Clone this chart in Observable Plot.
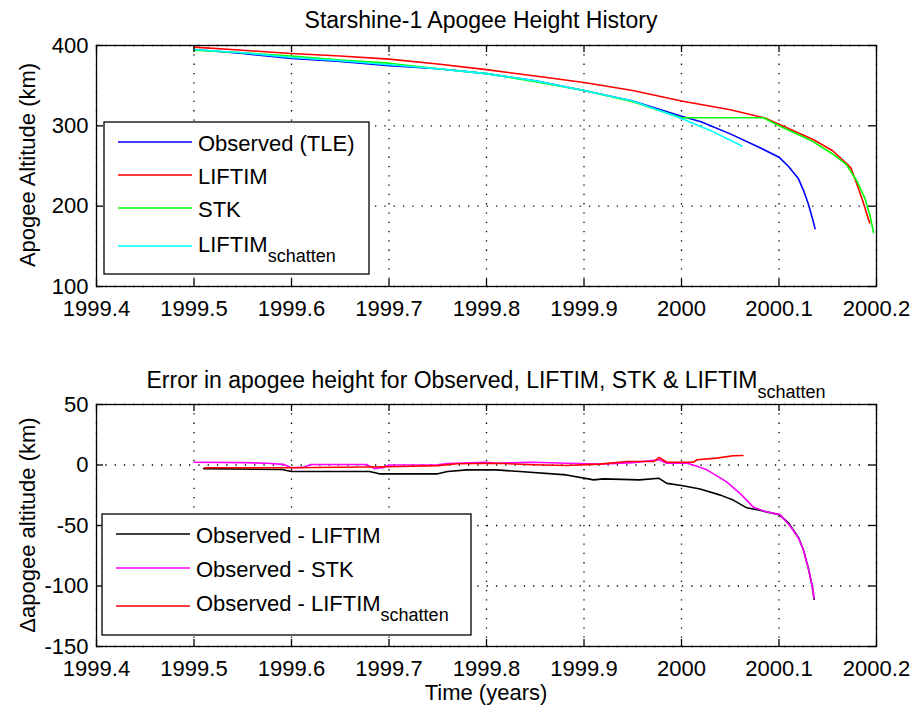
<!DOCTYPE html>
<html>
<head>
<meta charset="utf-8">
<script src="https://cdn.jsdelivr.net/npm/d3@7"></script>
<script src="https://cdn.jsdelivr.net/npm/@observablehq/plot@0.6"></script>
<style>
  body { margin: 0; background: #fff; }
  #fig { position: relative; width: 915px; height: 712px; overflow: hidden; background: #fff; }
  #fig > div, #fig > svg { position: absolute; left: 0; }
</style>
</head>
<body>
<div id="fig"></div>
<script>
// ---------- Data ----------
const xTicks = [1999.4, 1999.5, 1999.6, 1999.7, 1999.8, 1999.9, 2000.0, 2000.1, 2000.2];
const topYTicks = [100, 200, 300, 400];
const bottomYTicks = [-150, -100, -50, 0, 50];

const titleTop = "Starshine-1 Apogee Height History";
const titleBottomMain = "Error in apogee height for Observed, LIFTIM, STK & LIFTIM";
const titleBottomSub = "schatten";
const yLabelTop = "Apogee Altitude (km)";
const yLabelBottom = "Δapogee altitude (km)";
const xLabel = "Time (years)";

// Top panel: apogee altitude (km)
const observedT = [1999.50, 1999.55, 1999.60, 1999.65, 1999.70, 1999.75, 1999.80, 1999.85, 1999.90, 1999.95, 2000.00, 2000.02, 2000.05, 2000.08, 2000.10, 2000.11, 2000.12, 2000.125, 2000.13, 2000.134, 2000.137];
const observedH = [395, 390, 384, 380, 375, 371, 365, 356, 344, 331, 312, 305, 290, 273, 261, 249, 234, 220, 203, 186, 172];

const liftimT = [1999.50, 1999.55, 1999.60, 1999.65, 1999.70, 1999.75, 1999.80, 1999.85, 1999.90, 1999.95, 2000.00, 2000.05, 2000.085, 2000.10, 2000.135, 2000.155, 2000.171, 2000.174, 2000.18, 2000.186, 2000.193];
const liftimH = [398, 394, 390, 387, 383, 377, 370, 362, 354, 344, 331, 320, 310, 302, 283, 269, 251, 247, 227, 206, 179];

const stkT = [1999.50, 1999.55, 1999.60, 1999.65, 1999.70, 1999.75, 1999.80, 1999.85, 1999.90, 1999.95, 1999.995, 2000.00, 2000.084, 2000.10, 2000.134, 2000.155, 2000.169, 2000.18, 2000.188, 2000.193, 2000.197];
const stkH = [394, 391, 387, 382, 378, 371, 365, 355, 344, 330, 312, 310, 310, 300, 281, 265, 252, 231, 210, 190, 167];

const schattenT = [1999.50, 1999.55, 1999.60, 1999.65, 1999.70, 1999.75, 1999.80, 1999.85, 1999.90, 1999.95, 2000.00, 2000.03, 2000.062];
const schattenH = [395, 391, 385, 381, 376, 371, 365, 356, 344, 331, 309, 294, 275];

// Bottom panel: error (km)
const errLiftimT = [1999.51, 1999.59, 1999.60, 1999.68, 1999.69, 1999.75, 1999.76, 1999.78, 1999.81, 1999.834, 1999.882, 1999.91, 1999.92, 1999.957, 1999.977, 1999.985, 2000.00, 2000.019, 2000.04, 2000.053, 2000.067, 2000.08, 2000.10, 2000.11, 2000.12, 2000.125, 2000.13, 2000.134, 2000.136];
const errLiftimV = [-3, -3.7, -5.4, -5.4, -7.3, -7.3, -5.4, -4, -4, -5.4, -8.2, -12.3, -11.5, -12.3, -11, -15.2, -17, -19.9, -24.9, -29, -35.4, -37.4, -41, -48, -60, -70, -85, -100, -111];

const errStkT = [1999.50, 1999.55, 1999.575, 1999.592, 1999.60, 1999.612, 1999.62, 1999.677, 1999.685, 1999.694, 1999.70, 1999.75, 1999.76, 1999.80, 1999.81, 1999.848, 1999.882, 1999.916, 1999.95, 1999.977, 1999.985, 2000.006, 2000.012, 2000.026, 2000.046, 2000.06, 2000.074, 2000.087, 2000.101, 2000.111, 2000.12, 2000.125, 2000.13, 2000.134, 2000.136];
const errStkV = [2.3, 2, 1.5, 0.5, -2.3, -2, 0.4, 0.4, -3, -2, 0, 0.2, 1.3, 2.3, 1.5, 2.3, 1.5, 0.7, 2, 4.3, 1.5, 1.5, 0, -4, -13.7, -23.5, -35, -38.7, -41, -50, -60.5, -70, -85, -100, -110];

const errSchattenT = [1999.511, 1999.60, 1999.70, 1999.75, 1999.77, 1999.81, 1999.848, 1999.882, 1999.916, 1999.944, 1999.972, 1999.977, 1999.985, 2000.012, 2000.016, 2000.036, 2000.053, 2000.063];
const errSchattenV = [-2.3, -2.3, -1.5, -0.5, 1, 1.5, 0.2, -0.4, 0.7, 2.9, 3, 6.2, 2.3, 2.3, 4.3, 5.7, 7.7, 7.9];

// ---------- Rendering ----------
const FONT = "'Liberation Sans', Arial, Helvetica, sans-serif";
const rows = (ts, vs) => ts.map((t, i) => ({t, v: vs[i]}));
const fmtX = d => String(+d.toFixed(1));
const fmtY = d => String(d); // plain hyphen-minus, as in the reference

const topSeries = [
  {name: "Observed (TLE)", color: "#0000ff", rows: rows(observedT, observedH)},
  {name: "LIFTIM", color: "#ff0000", rows: rows(liftimT, liftimH)},
  {name: "STK", color: "#00ff00", rows: rows(stkT, stkH)},
  {name: "LIFTIM", sub: "schatten", color: "#00ffff", rows: rows(schattenT, schattenH)}
];
const bottomSeries = [
  {name: "Observed - LIFTIM", color: "#000000", rows: rows(errLiftimT, errLiftimV)},
  {name: "Observed - STK", color: "#ff00ff", rows: rows(errStkT, errStkV)},
  {name: "Observed - LIFTIM", sub: "schatten", color: "#ff0000", rows: rows(errSchattenT, errSchattenV)}
];

function panel({height, marginTop, marginBottom, yDomain, yTicks, series}) {
  const width = 915, marginLeft = 96, marginRight = 39;
  const fw = width - marginLeft - marginRight;
  const fh = height - marginTop - marginBottom;
  const tickLen = 7;
  const grid = {stroke: "#000", strokeOpacity: 1, strokeWidth: 1.3, strokeDasharray: "1.3,8"};
  return Plot.plot({
    width, height, marginLeft, marginRight, marginTop, marginBottom,
    style: {fontFamily: FONT, fontSize: "22px", color: "#000", background: "#fff", overflow: "visible"},
    x: {domain: [1999.4, 2000.2]},
    y: {domain: yDomain},
    marks: [
      Plot.gridX(xTicks, grid),
      Plot.gridY(yTicks, grid),
      ...series.map(s => Plot.line(s.rows, {x: "t", y: "v", stroke: s.color, strokeWidth: 1.6})),
      Plot.tickX(xTicks, {x: d => d, stroke: "#000", strokeWidth: 1.3, insetTop: fh - tickLen}),
      Plot.tickX(xTicks, {x: d => d, stroke: "#000", strokeWidth: 1.3, insetBottom: fh - tickLen}),
      Plot.tickY(yTicks, {y: d => d, stroke: "#000", strokeWidth: 1.3, insetRight: fw - tickLen}),
      Plot.tickY(yTicks, {y: d => d, stroke: "#000", strokeWidth: 1.3, insetLeft: fw - tickLen}),
      Plot.axisX(xTicks, {tickSize: 0, tickPadding: 14, tickFormat: fmtX, label: null, fontSize: 22}),
      Plot.axisY(yTicks, {tickSize: 0, tickPadding: 8, tickFormat: fmtY, label: null, fontSize: 22}),
      Plot.frame({stroke: "#000", strokeWidth: 1.3})
    ]
  });
}

const fig = d3.select("#fig");
const topSvg = panel({height: 340, marginTop: 45, marginBottom: 54, yDomain: [100, 400], yTicks: topYTicks, series: topSeries});
const botSvg = panel({height: 372, marginTop: 64, marginBottom: 66, yDomain: [-150, 50], yTicks: bottomYTicks, series: bottomSeries});
fig.append("div").style("top", "0px").node().appendChild(topSvg);
fig.append("div").style("top", "340px").node().appendChild(botSvg);

// Overlay: titles, axis labels, legends
const ov = fig.append("svg").attr("width", 915).attr("height", 712).style("top", "0px")
  .style("font-family", FONT).style("pointer-events", "none");

function subText(g, main, sub, subSize, subShift) {
  g.append("tspan").text(main);
  if (sub) g.append("tspan").attr("font-size", subSize).attr("dy", subShift).text(sub);
}

// Titles
ov.append("text").attr("x", 481).attr("y", 28).attr("text-anchor", "middle").attr("font-size", 23).text(titleTop);
subText(ov.append("text").attr("x", 486).attr("y", 388).attr("text-anchor", "middle").attr("font-size", 23),
  titleBottomMain, titleBottomSub, 18, 10);

// Axis labels
ov.append("text").attr("transform", "translate(35,165) rotate(-90)").attr("text-anchor", "middle").attr("font-size", 22).text(yLabelTop);
ov.append("text").attr("transform", "translate(35,525) rotate(-90)").attr("text-anchor", "middle").attr("font-size", 22).text(yLabelBottom);
ov.append("text").attr("x", 486).attr("y", 700).attr("text-anchor", "middle").attr("font-size", 22).text(xLabel);

// Legends
function legend(box, series, lineYs, baseYs) {
  ov.append("rect").attr("x", box.x).attr("y", box.y).attr("width", box.w).attr("height", box.h)
    .attr("fill", "#fff").attr("stroke", "#000").attr("stroke-width", 1.3);
  series.forEach((s, i) => {
    ov.append("line").attr("x1", box.x + 14).attr("x2", box.x + 88).attr("y1", lineYs[i]).attr("y2", lineYs[i])
      .attr("stroke", s.color).attr("stroke-width", 1.6);
    subText(ov.append("text").attr("x", box.x + 94).attr("y", baseYs[i]).attr("font-size", 22),
      s.name, s.sub, 18, 10);
  });
}
legend({x: 104, y: 122, w: 265, h: 152}, topSeries, [142, 175, 208, 246], [151, 184, 217, 252]);
legend({x: 102, y: 514, w: 369, h: 121}, bottomSeries, [534, 568, 606], [543, 577, 611]);
</script>
</body>
</html>
